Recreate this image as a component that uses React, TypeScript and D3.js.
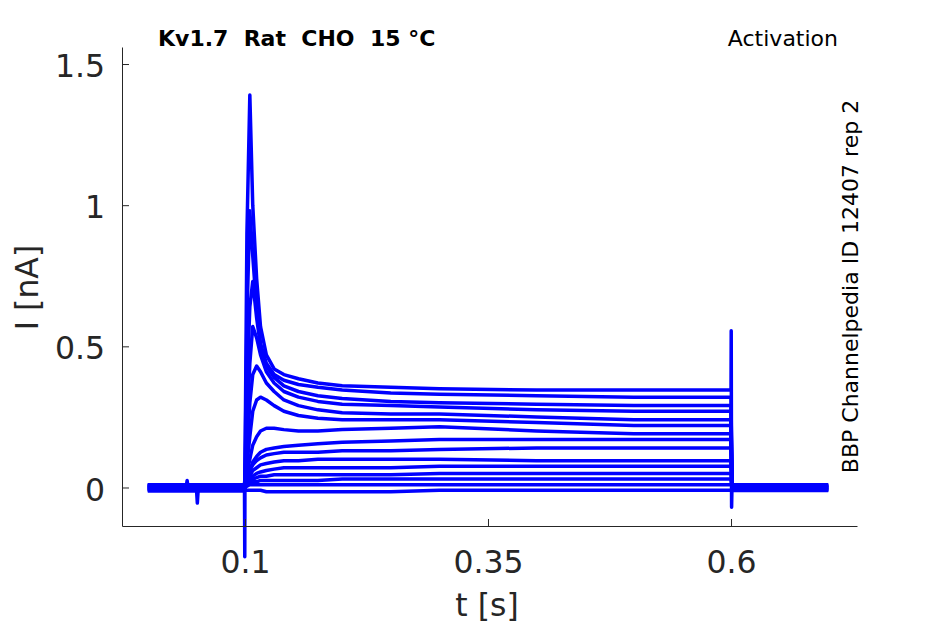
import { useEffect, useRef } from "react";
import * as d3 from "d3";

// sample times (s) during the depolarising step
const stepTimes = [0.1, 0.102, 0.105, 0.108, 0.112, 0.116, 0.122, 0.13, 0.14, 0.155, 0.175, 0.2, 0.25, 0.3, 0.4, 0.5, 0.6];

// current (nA) of each sweep at stepTimes
const sweep01 = [0.05, 0.9, 1.39, 1.0, 0.74, 0.57, 0.47, 0.42, 0.4, 0.385, 0.37, 0.36, 0.355, 0.35, 0.345, 0.345, 0.345];
const sweep02 = [0.05, 0.6, 0.98, 0.82, 0.63, 0.51, 0.44, 0.4, 0.38, 0.365, 0.355, 0.345, 0.335, 0.33, 0.325, 0.32, 0.32];
const sweep03 = [0.04, 0.35, 0.64, 0.73, 0.6, 0.5, 0.43, 0.39, 0.36, 0.34, 0.325, 0.315, 0.305, 0.3, 0.295, 0.29, 0.29];
const sweep04 = [0.03, 0.2, 0.44, 0.57, 0.53, 0.47, 0.41, 0.37, 0.34, 0.32, 0.305, 0.295, 0.29, 0.285, 0.275, 0.27, 0.27];
const sweep05 = [0.03, 0.12, 0.3, 0.4, 0.43, 0.41, 0.37, 0.34, 0.31, 0.29, 0.275, 0.265, 0.26, 0.26, 0.25, 0.24, 0.24];
const sweep06 = [0.02, 0.08, 0.18, 0.27, 0.31, 0.32, 0.31, 0.29, 0.27, 0.255, 0.245, 0.24, 0.24, 0.24, 0.23, 0.22, 0.22];
const sweep07 = [0.02, 0.05, 0.1, 0.15, 0.18, 0.2, 0.21, 0.21, 0.205, 0.2, 0.2, 0.205, 0.21, 0.215, 0.2, 0.19, 0.19];
const sweep08 = [0.01, 0.03, 0.06, 0.09, 0.11, 0.125, 0.135, 0.14, 0.145, 0.15, 0.155, 0.16, 0.165, 0.17, 0.17, 0.17, 0.17];
const sweep09 = [0.01, 0.03, 0.06, 0.08, 0.095, 0.105, 0.115, 0.12, 0.125, 0.125, 0.125, 0.13, 0.13, 0.135, 0.14, 0.14, 0.14];
const sweep10 = [0.01, 0.02, 0.04, 0.06, 0.07, 0.08, 0.085, 0.09, 0.095, 0.095, 0.1, 0.1, 0.1, 0.1, 0.095, 0.095, 0.095];
const sweep11 = [0, 0.02, 0.03, 0.04, 0.05, 0.055, 0.06, 0.065, 0.07, 0.07, 0.07, 0.07, 0.07, 0.075, 0.075, 0.075, 0.075];
const sweep12 = [0, 0.01, 0.02, 0.03, 0.035, 0.04, 0.04, 0.045, 0.045, 0.045, 0.045, 0.045, 0.045, 0.05, 0.05, 0.05, 0.05];
const sweep13 = [0, 0.01, 0.015, 0.02, 0.02, 0.025, 0.025, 0.025, 0.025, 0.025, 0.025, 0.03, 0.03, 0.03, 0.03, 0.03, 0.03];
const sweep14 = [0, 0.005, 0.01, 0.01, 0.01, 0.01, 0.01, 0.01, 0.01, 0.01, 0.01, 0.01, 0.01, 0.01, 0.01, 0.01, 0.01];
const sweep15 = [-0.01, -0.01, -0.01, -0.01, -0.01, -0.01, -0.015, -0.015, -0.015, -0.015, -0.015, -0.015, -0.015, -0.01, -0.01, -0.01, -0.01];

// holding current before and after the step
const holdLevels = [0.008, -0.006, 0.004, -0.01, 0.01, -0.003, 0.006, -0.008, 0.002, -0.005, 0.009, -0.012, 0.0, 0.005, -0.004];
const tailLevels = [0.007, -0.008, 0.003, -0.01, 0.01, -0.004, 0.005, -0.007, 0.001, -0.006, 0.008, -0.011, 0.0, 0.004, -0.002];

// artefacts: [t, I]
const onsetSpike = [[0.0998, -0.245]];
const offsetSpike = [[0.6002, 0.555], [0.6006, -0.07]];
const holdBlips = [[0.0395, 0.0], [0.0405, 0.025], [0.0415, 0.0], [0.05, 0.0], [0.051, -0.055], [0.052, 0.0]];

const xTicks = [0.1, 0.35, 0.6];
const yTicks = [0, 0.5, 1, 1.5];

const sweeps = [sweep01, sweep02, sweep03, sweep04, sweep05, sweep06, sweep07, sweep08, sweep09, sweep10, sweep11, sweep12, sweep13, sweep14, sweep15];

const FONT = "DejaVu Sans";
const AXIS_COLOR = "#262626";

export default function App() {
  const ref = useRef<SVGSVGElement>(null);

  useEffect(() => {
    const svg = d3.select(ref.current!);
    svg.selectAll("*").remove();

    const x = d3.scaleLinear().domain([-0.0265, 0.7296]).range([122, 857]);
    const y = d3.scaleLinear().domain([-0.1364, 1.5603]).range([526, 47]);

    const line = d3
      .line<number[]>()
      .x((d) => x(d[0]))
      .y((d) => y(d[1]));

    const traces = sweeps.map((vals, i) => {
      const hold = holdLevels[i];
      const tail = tailLevels[i];
      const pts: number[][] = [[0, hold]];
      if (i === sweeps.length - 1) pts.push(...holdBlips);
      pts.push([0.0995, hold]);
      if (i === 0) pts.push(...onsetSpike);
      stepTimes.forEach((t, j) => pts.push([t, vals[j]]));
      if (i === 0) pts.push(...offsetSpike);
      pts.push([0.601, tail], [0.7, tail]);
      return pts;
    });

    svg
      .append("g")
      .attr("fill", "none")
      .attr("stroke", "#0000ff")
      .attr("stroke-width", 3.5)
      .attr("stroke-linejoin", "round")
      .selectAll("path")
      .data(traces.slice().reverse())
      .join("path")
      .attr("d", (d) => line(d));

    // x axis
    svg
      .append("g")
      .attr("transform", "translate(0,526)")
      .call(
        d3
          .axisBottom(x)
          .tickValues(xTicks)
          .tickFormat((d) => String(d))
          .tickSizeInner(-7)
          .tickSizeOuter(0)
          .tickPadding(24.5)
      )
      .call((g) => {
        g.select(".domain").attr("stroke", AXIS_COLOR);
        g.selectAll(".tick line").attr("stroke", AXIS_COLOR);
        g.selectAll(".tick text")
          .attr("fill", AXIS_COLOR)
          .attr("font-size", 31.5)
          .attr("font-family", FONT);
      });

    // y axis
    svg
      .append("g")
      .attr("transform", "translate(122,0)")
      .call(
        d3
          .axisLeft(y)
          .tickValues(yTicks)
          .tickFormat((d) => String(d))
          .tickSizeInner(-7)
          .tickSizeOuter(0)
          .tickPadding(17)
      )
      .call((g) => {
        g.select(".domain").attr("stroke", AXIS_COLOR);
        g.selectAll(".tick line").attr("stroke", AXIS_COLOR);
        g.selectAll(".tick text")
          .attr("fill", AXIS_COLOR)
          .attr("font-size", 31.5)
          .attr("font-family", FONT)
          .attr("dy", "0.4em");
      });

    // axis labels
    svg
      .append("text")
      .attr("x", 487)
      .attr("y", 616)
      .attr("text-anchor", "middle")
      .attr("font-family", FONT)
      .attr("font-size", 31.5)
      .attr("fill", AXIS_COLOR)
      .text("t [s]");

    svg
      .append("text")
      .attr("transform", "translate(38,287.5) rotate(-90)")
      .attr("text-anchor", "middle")
      .attr("font-family", FONT)
      .attr("font-size", 31.5)
      .attr("fill", AXIS_COLOR)
      .text("I [nA]");

    // titles
    svg
      .append("text")
      .attr("x", 158)
      .attr("y", 46)
      .attr("font-family", FONT)
      .attr("font-weight", "bold")
      .attr("font-size", 22)
      .attr("fill", "#000")
      .style("white-space", "pre")
      .text("Kv1.7  Rat  CHO  15 °C");

    svg
      .append("text")
      .attr("x", 838)
      .attr("y", 46)
      .attr("text-anchor", "end")
      .attr("font-family", FONT)
      .attr("font-size", 22)
      .attr("fill", "#000")
      .text("Activation");

    svg
      .append("text")
      .attr("transform", "translate(858,286.5) rotate(-90)")
      .attr("text-anchor", "middle")
      .attr("font-family", FONT)
      .attr("font-size", 22)
      .attr("fill", "#000")
      .text("BBP Channelpedia ID 12407 rep 2");
  }, []);

  return (
    <svg
      ref={ref}
      width={945}
      height={624}
      style={{ position: "absolute", left: 0, top: 0, background: "#fff" }}
    />
  );
}
